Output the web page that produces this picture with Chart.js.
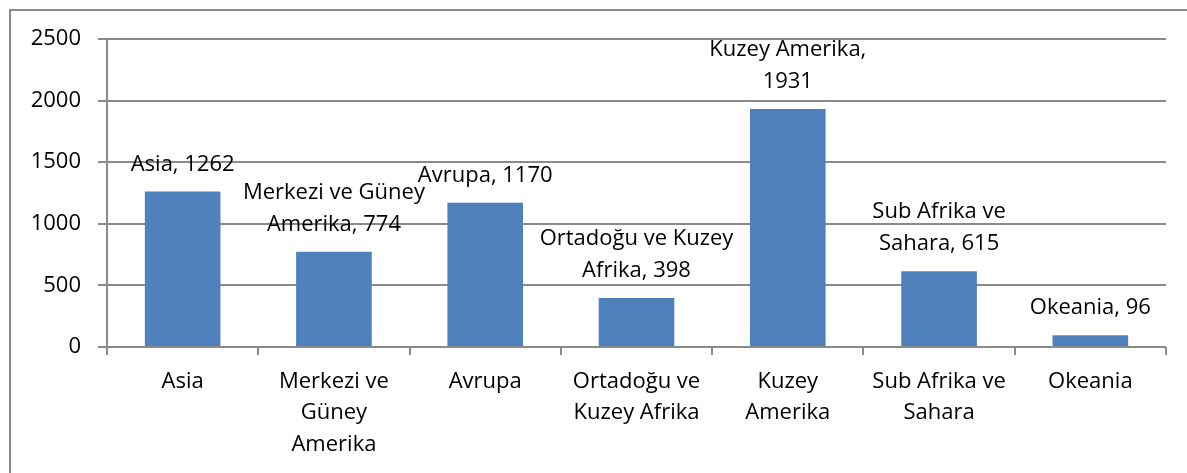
<!DOCTYPE html>
<html>
<head>
<meta charset="utf-8">
<script src="https://cdn.jsdelivr.net/npm/chart.js@4/dist/chart.umd.min.js"></script>
<style>
  html, body { margin: 0; padding: 0; background: #ffffff; overflow: hidden; }
  #wrap { position: relative; width: 1187px; height: 473px; }
  #frame { position: absolute; left: 9px; top: 9px; width: 1400px; height: 700px; border: 2px solid #8a8a8a; box-sizing: border-box; }
  canvas { position: absolute; left: 0; top: 0; }
</style>
</head>
<body>
<div id="wrap">
  <div id="frame"></div>
  <canvas id="c" width="1187" height="473"></canvas>
</div>
<script>
const categories = ['Asia', 'Merkezi ve Güney Amerika', 'Avrupa', 'Ortadoğu ve Kuzey Afrika', 'Kuzey Amerika', 'Sub Afrika ve Sahara', 'Okeania'];
const categoryLines = [['Asia'], ['Merkezi ve', 'Güney', 'Amerika'], ['Avrupa'], ['Ortadoğu ve', 'Kuzey Afrika'], ['Kuzey', 'Amerika'], ['Sub Afrika ve', 'Sahara'], ['Okeania']];
const values = [1262, 774, 1170, 398, 1931, 615, 96];
const dataLabelLines = [
  ['Asia, 1262'],
  ['Merkezi ve Güney', 'Amerika, 774'],
  ['Avrupa, 1170'],
  ['Ortadoğu ve Kuzey', 'Afrika, 398'],
  ['Kuzey Amerika,', '1931'],
  ['Sub Afrika ve', 'Sahara, 615'],
  ['Okeania, 96']
];
const yTicks = [0, 500, 1000, 1500, 2000, 2500];
const yTickLabels = ['0', '500', '1000', '1500', '2000', '2500'];

const FONT = "'Open Sans', sans-serif";
const GRID = '#8a8a8a';

const labelPlugin = {
  id: 'barLabels',
  afterDatasetsDraw(chart) {
    const ctx = chart.ctx;
    const meta = chart.getDatasetMeta(0);
    ctx.save();
    ctx.font = '22px ' + FONT;
    ctx.fillStyle = '#000';
    ctx.textAlign = 'center';
    ctx.textBaseline = 'middle';
    meta.data.forEach((bar, i) => {
      const lines = dataLabelLines[i];
      const lh = 32;
      const lastY = bar.y - 27;
      lines.forEach((t, k) => {
        const y = lastY - (lines.length - 1 - k) * lh;
        ctx.fillText(t, bar.x, y);
      });
    });
    ctx.restore();
  }
};

new Chart(document.getElementById('c'), {
  type: 'bar',
  data: {
    labels: categoryLines,
    datasets: [{
      data: values,
      backgroundColor: '#4f81bd',
      borderWidth: 0,
      barPercentage: 0.5,
      categoryPercentage: 1.0
    }]
  },
  options: {
    responsive: false,
    animation: false,
    devicePixelRatio: 1,
    layout: { padding: { left: 0, right: 21, top: 39, bottom: 0 } },
    plugins: { legend: { display: false }, tooltip: { enabled: false } },
    scales: {
      x: {
        offset: true,
        grid: { display: true, drawOnChartArea: false, drawTicks: true, tickLength: 8, color: GRID, lineWidth: 2, offset: true },
        border: { display: false },
        ticks: {
          color: '#000', font: { family: FONT, size: 22, lineHeight: 1.43 },
          maxRotation: 0, minRotation: 0, autoSkip: false, padding: 11
        },
        afterFit(s) { s.height = 126; }
      },
      y: {
        min: 0, max: 2500,
        afterBuildTicks(s) { s.ticks = yTicks.map(v => ({ value: v })); },
        grid: { color: GRID, lineWidth: 2, tickLength: 9, drawTicks: true },
        border: { display: true, color: GRID, width: 2 },
        ticks: {
          color: '#000', font: { family: FONT, size: 22 }, padding: 17,
          callback(v) { const i = yTicks.indexOf(v); return i >= 0 ? yTickLabels[i] : ''; }
        },
        afterFit(s) { s.width = 107; }
      }
    }
  },
  plugins: [labelPlugin]
});
</script>
</body>
</html>
